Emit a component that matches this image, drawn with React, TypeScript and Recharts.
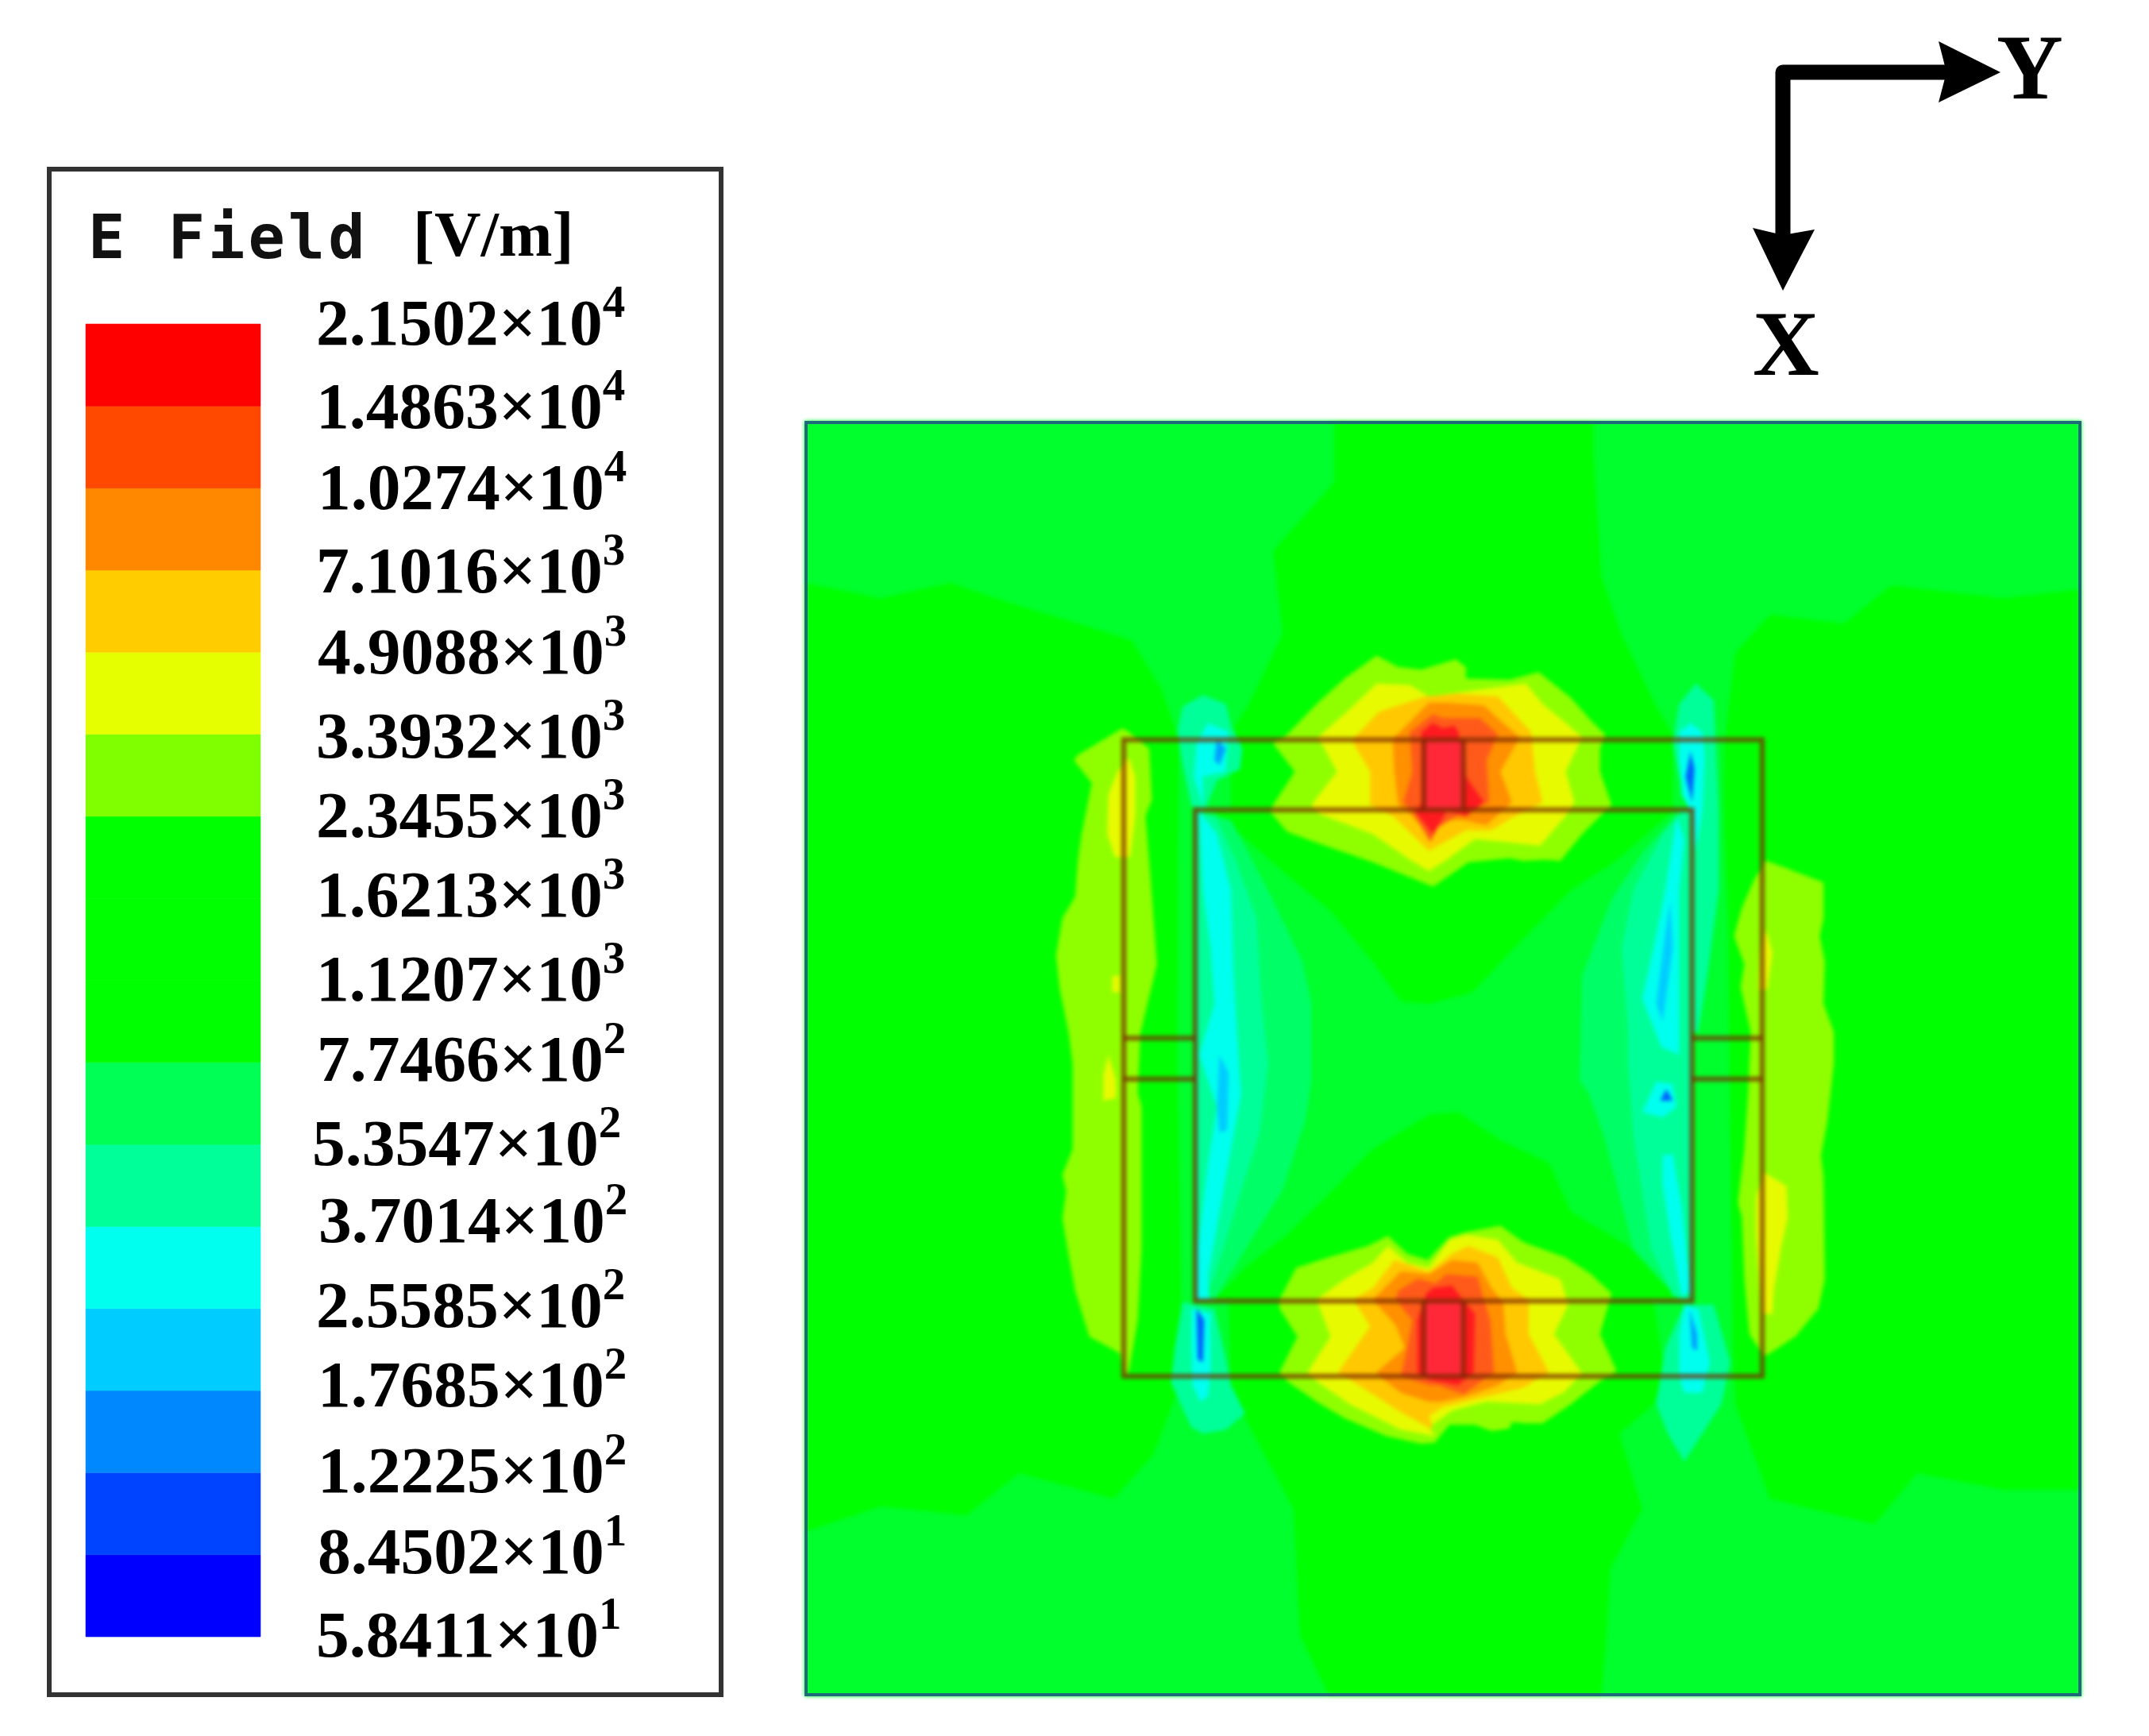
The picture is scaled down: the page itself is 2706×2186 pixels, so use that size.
import { Bar, BarChart, Scatter, ScatterChart, XAxis, YAxis } from "recharts";

type Pt = [number, number];

// legend scale, bottom band first
const bandColors = ["#0000ff", "#0044ff", "#0088ff", "#00ccff", "#00ffee", "#00ff99", "#00ff55", "#00ff00", "#00ff00", "#00ff00", "#7fff00", "#e6ff00", "#ffcc00", "#ff8800", "#ff4800", "#ff0000"];
const scaleMantissas = ["5.8411", "8.4502", "1.2225", "1.7685", "2.5585", "3.7014", "5.3547", "7.7466", "1.1207", "1.6213", "2.3455", "3.3932", "4.9088", "7.1016", "1.0274", "1.4863", "2.1502"];
const scaleExponents = [1, 1, 2, 2, 2, 2, 2, 2, 3, 3, 3, 3, 3, 3, 4, 4, 4];
// the labels were placed by hand in the original, so they sit a little off the ticks
const labelNudgeX = [0, 2, 2, 2, 0, 3, -5, 1, 0, 0, 0, 0, 2, 0, 2, 0, 0];
const labelNudgeY = [-3, -5, -3, -8, -5, -8, -2, -5, -3, -5, -2, 1, -1, 0, -2, 0, -2];

// field contours, in thousandths of the plot side (v runs downwards)
const greenLeft: Pt[] = [[0, 127], [60, 139], [114, 127], [168, 145], [215, 159], [256, 172], [279, 209], [293, 249], [292, 500], [296, 750], [273, 811], [242, 845], [168, 825], [127, 858], [60, 851], [0, 871]];
const greenRight: Pt[] = [[1000, 132], [939, 139], [851, 129], [814, 159], [756, 152], [729, 182], [725, 213], [720, 257], [720, 306], [723, 390], [727, 727], [729, 771], [756, 845], [838, 865], [871, 825], [939, 838], [1000, 838]];
const greenTop: Pt[] = [[415, 0], [618, 0], [618, 28], [624, 122], [640, 168], [667, 224], [680, 246], [680, 306], [334, 306], [334, 244], [347, 224], [374, 168], [374, 162], [367, 102], [415, 48]];
const greenBottom: Pt[] = [[332, 691], [665, 691], [673, 745], [665, 771], [638, 794], [656, 853], [631, 900], [628, 952], [624, 1000], [411, 1000], [388, 952], [383, 853], [343, 778], [334, 756]];
const greenInnerTop: Pt[] = [[321, 306], [356, 337], [385, 362], [412, 384], [445, 424], [467, 455], [489, 457], [523, 448], [556, 413], [600, 368], [634, 346], [680, 306]];
const greenInnerBottom: Pt[] = [[321, 689], [345, 664], [378, 638], [410, 607], [445, 571], [489, 544], [512, 542], [545, 564], [583, 582], [600, 620], [645, 647], [672, 676], [687, 689]];

const paleInnerLeft: Pt[] = [[306, 306], [334, 313], [363, 368], [390, 424], [397, 457], [397, 517], [392, 549], [374, 604], [350, 642], [321, 689], [306, 689]];
const paleInnerRight: Pt[] = [[695, 306], [685, 306], [656, 339], [632, 375], [609, 435], [607, 517], [614, 527], [627, 564], [649, 649], [685, 689], [695, 689]];
const tealInnerLeft: Pt[] = [[306, 306], [322, 310], [338, 346], [354, 390], [358, 457], [363, 504], [356, 560], [338, 616], [321, 671], [312, 689], [306, 689]];
const tealInnerRight: Pt[] = [[695, 306], [688, 306], [672, 324], [649, 368], [640, 413], [645, 479], [645, 504], [649, 560], [663, 649], [680, 686], [695, 689]];
const tealTopLeft: Pt[] = [[296, 224], [312, 215], [330, 222], [334, 239], [343, 257], [341, 273], [323, 282], [314, 304], [303, 302], [296, 268], [292, 244]];
const tealTopRight: Pt[] = [[685, 222], [698, 206], [712, 219], [714, 257], [716, 306], [716, 368], [707, 435], [700, 479], [696, 479], [696, 306], [685, 279], [680, 253]];
const tealBottomLeft: Pt[] = [[296, 691], [321, 696], [330, 736], [334, 756], [345, 778], [330, 791], [312, 794], [303, 789], [296, 774], [287, 754], [290, 727]];
const tealBottomRight: Pt[] = [[689, 693], [712, 693], [725, 738], [718, 771], [703, 794], [689, 816], [676, 794], [667, 771], [674, 727]];

const lobeLeft: Pt[] = [[249, 241], [214, 262], [211, 266], [225, 284], [217, 324], [214, 346], [212, 373], [202, 390], [197, 419], [200, 446], [207, 480], [210, 504], [210, 571], [202, 591], [205, 604], [202, 625], [206, 649], [212, 682], [223, 718], [247, 731], [250, 749], [254, 745], [261, 705], [264, 649], [264, 538], [261, 527], [263, 480], [276, 426], [270, 346], [267, 310], [272, 297], [270, 257], [254, 244]];
const lobeRight: Pt[] = [[753, 345], [767, 350], [798, 362], [798, 390], [795, 404], [799, 424], [798, 457], [806, 479], [806, 504], [801, 549], [796, 576], [798, 593], [799, 673], [794, 696], [776, 718], [756, 731], [751, 733], [740, 716], [736, 673], [734, 624], [731, 613], [736, 571], [739, 527], [741, 479], [733, 444], [736, 426], [728, 404], [734, 382], [744, 359]];
const yellowLeftTop: Pt[] = [[254, 264], [259, 279], [259, 310], [255, 342], [243, 342], [237, 324], [238, 293], [245, 275]];
const yellowLeftMid: Pt[] = [[241, 435], [247, 435], [247, 448], [241, 448]];
const yellowLeftLow: Pt[] = [[238, 497], [244, 517], [244, 531], [234, 533], [234, 513]];
const yellowRightLow: Pt[] = [[751, 589], [769, 600], [770, 625], [765, 647], [759, 682], [758, 700], [749, 700], [745, 638], [745, 609]];
const yellowRightUp: Pt[] = [[753, 399], [758, 417], [754, 446], [747, 446], [748, 417]];

const topLime: Pt[] = [[378, 246], [401, 222], [423, 202], [448, 184], [465, 193], [483, 195], [510, 187], [518, 193], [518, 202], [552, 203], [575, 197], [600, 217], [616, 235], [627, 246], [623, 257], [623, 275], [632, 301], [623, 310], [609, 324], [592, 345], [580, 344], [563, 345], [552, 343], [520, 346], [494, 364], [492, 365], [445, 346], [396, 329], [378, 322], [365, 307], [367, 301], [384, 275], [367, 253]];
const topYellow: Pt[] = [[401, 249], [427, 226], [448, 206], [474, 207], [489, 216], [512, 213], [534, 210], [565, 206], [578, 222], [594, 235], [609, 248], [596, 275], [603, 299], [596, 310], [576, 333], [547, 330], [525, 328], [503, 344], [489, 353], [474, 344], [445, 324], [403, 308], [397, 301], [417, 275], [405, 253]];
const topAmber: Pt[] = [[430, 249], [450, 228], [487, 216], [512, 214], [543, 216], [556, 230], [569, 244], [572, 275], [578, 299], [556, 310], [538, 321], [518, 321], [489, 337], [461, 310], [443, 301], [443, 275], [430, 253]];
const topOrange: Pt[] = [[461, 249], [489, 221], [503, 221], [532, 223], [545, 235], [560, 248], [545, 275], [554, 299], [534, 317], [516, 313], [496, 313], [494, 319], [492, 328], [476, 310], [465, 301], [462, 275], [461, 257]];
const topOrangeRed: Pt[] = [[474, 244], [492, 230], [500, 233], [529, 233], [543, 246], [534, 266], [536, 299], [516, 306], [496, 319], [490, 330], [476, 306], [469, 299], [476, 275]];
const topRed: Pt[] = [[483, 244], [492, 237], [500, 241], [509, 239], [512, 244], [518, 279], [532, 299], [518, 310], [503, 306], [494, 321], [492, 324], [478, 306], [483, 300]];
const topCore: Pt[] = [[485, 250], [516, 250], [516, 305], [485, 305]];

const bottomLime: Pt[] = [[372, 689], [385, 664], [410, 656], [441, 647], [457, 639], [472, 653], [488, 658], [505, 640], [518, 636], [545, 631], [563, 644], [596, 656], [616, 669], [632, 684], [623, 716], [636, 745], [623, 753], [600, 771], [578, 786], [565, 786], [554, 785], [552, 790], [538, 792], [525, 787], [505, 787], [496, 798], [494, 801], [483, 802], [456, 796], [423, 782], [401, 769], [378, 753], [372, 746], [386, 718], [372, 696]];
const bottomYellow: Pt[] = [[401, 689], [423, 673], [445, 660], [457, 647], [472, 660], [489, 664], [505, 642], [518, 638], [543, 642], [558, 660], [592, 673], [598, 693], [587, 716], [609, 747], [594, 762], [576, 771], [534, 769], [507, 776], [489, 789], [494, 796], [467, 791], [427, 771], [401, 753], [394, 746], [412, 718]];
const bottomAmber: Pt[] = [[430, 689], [445, 680], [462, 658], [489, 667], [507, 653], [520, 647], [543, 656], [554, 680], [567, 689], [567, 716], [583, 746], [563, 758], [534, 765], [500, 773], [489, 780], [492, 791], [465, 776], [434, 756], [418, 746], [443, 710]];
const bottomOrange: Pt[] = [[445, 689], [467, 667], [489, 669], [507, 658], [527, 660], [538, 680], [547, 691], [549, 716], [558, 746], [543, 756], [518, 765], [498, 769], [489, 769], [467, 762], [450, 749], [448, 746], [470, 727], [463, 709]];
const bottomOrangeRed: Pt[] = [[465, 682], [480, 673], [494, 676], [503, 669], [527, 671], [532, 689], [537, 705], [540, 746], [516, 763], [496, 756], [489, 756], [467, 749], [472, 727], [476, 705], [463, 689]];
const bottomRed: Pt[] = [[487, 684], [492, 680], [507, 678], [514, 687], [525, 700], [524, 746], [512, 756], [489, 752], [480, 746], [480, 705]];
const bottomCore: Pt[] = [[485, 690], [516, 690], [516, 749], [485, 749]];

const cyanInnerLeft: Pt[] = [[309, 306], [323, 324], [334, 368], [336, 435], [341, 517], [342, 527], [330, 593], [316, 671], [317, 689], [307, 689], [308, 649], [316, 582], [323, 538], [309, 497], [321, 457], [318, 413], [312, 368]];
const cyanInnerRightUp: Pt[] = [[683, 310], [689, 328], [685, 368], [685, 413], [685, 497], [671, 491], [656, 453], [665, 413], [674, 368]];
const cyanInnerRightDot: Pt[] = [[656, 542], [667, 518], [680, 520], [683, 538], [672, 546]];
const cyanInnerRightLow: Pt[] = [[672, 576], [680, 575], [687, 616], [694, 682], [687, 687], [678, 638], [672, 598]];
const cyanTopLeft: Pt[] = [[316, 237], [332, 244], [330, 275], [312, 279], [312, 302], [305, 279], [307, 253]];
const cyanTopRight: Pt[] = [[685, 244], [694, 237], [703, 244], [705, 264], [703, 306], [698, 337], [696, 310], [687, 293], [685, 266]];
const cyanBottomLeft: Pt[] = [[303, 696], [318, 700], [318, 745], [316, 765], [310, 769], [304, 756], [303, 727]];
const cyanBottomRight: Pt[] = [[689, 693], [700, 696], [709, 738], [703, 762], [689, 762], [685, 749], [685, 716]];

const blueInnerLeft: Pt[] = [[325, 497], [332, 511], [331, 556], [325, 558], [323, 538]];
const blueInnerRight: Pt[] = [[678, 377], [680, 413], [672, 471], [667, 457], [674, 402]];
const blueTopLeft: Pt[] = [[323, 250], [330, 257], [325, 270], [321, 266]];
const blueTopRight: Pt[] = [[694, 259], [697, 273], [695, 299], [690, 279]];
const blueBottomLeft: Pt[] = [[307, 696], [313, 705], [312, 738], [308, 736]];
const blueBottomRight: Pt[] = [[693, 696], [699, 716], [699, 729], [695, 727]];
const blueDot: Pt[] = [[675, 524], [680, 533], [670, 533]];

// resonator outline
const outerRing: Pt[] = [[250, 250], [750, 250], [750, 749], [250, 749]];
const innerRing: Pt[] = [[306, 305], [695, 305], [695, 690], [306, 690]];
const gapTopLeft: Pt[] = [[485, 250], [485, 305]];
const gapTopRight: Pt[] = [[516, 250], [516, 305]];
const gapBottomLeft: Pt[] = [[485, 690], [485, 749]];
const gapBottomRight: Pt[] = [[516, 690], [516, 749]];
const gapLeftUpper: Pt[] = [[250, 484], [306, 484]];
const gapLeftLower: Pt[] = [[250, 516], [306, 516]];
const gapRightUpper: Pt[] = [[695, 484], [750, 484]];
const gapRightLower: Pt[] = [[695, 516], [750, 516]];

const GREEN = "#00ff00";
const PALE = "#00ff66";
const TEAL = "#00ff99";
const LIME = "#8fff00";
const YELLOW = "#e8fa00";
const AMBER = "#ffc800";
const ORANGE = "#ff9000";
const ORANGE_RED = "#ff5a1a";
const RED = "#ff1a20";
const CORE = "#ff2838";
const CYAN = "#00ffee";
const BLUE = "#00a0ff";

const contours: [Pt[], string][] = [
  [greenLeft, GREEN], [greenRight, GREEN], [greenTop, GREEN], [greenBottom, GREEN], [greenInnerTop, GREEN], [greenInnerBottom, GREEN],
  [paleInnerLeft, PALE], [paleInnerRight, PALE], [tealInnerLeft, TEAL], [tealInnerRight, TEAL],
  [tealTopLeft, TEAL], [tealTopRight, TEAL], [tealBottomLeft, TEAL], [tealBottomRight, TEAL],
  [lobeLeft, LIME], [lobeRight, LIME], [yellowLeftTop, YELLOW], [yellowLeftMid, YELLOW], [yellowLeftLow, YELLOW], [yellowRightLow, YELLOW], [yellowRightUp, YELLOW],
  [topLime, LIME], [topYellow, YELLOW], [topAmber, AMBER], [topOrange, ORANGE], [topOrangeRed, ORANGE_RED], [topRed, RED], [topCore, CORE],
  [bottomLime, LIME], [bottomYellow, YELLOW], [bottomAmber, AMBER], [bottomOrange, ORANGE], [bottomOrangeRed, ORANGE_RED], [bottomRed, RED], [bottomCore, CORE],
  [cyanInnerLeft, CYAN], [cyanInnerRightUp, CYAN], [cyanInnerRightDot, CYAN], [cyanInnerRightLow, CYAN], [cyanTopLeft, CYAN], [cyanTopRight, CYAN], [cyanBottomLeft, CYAN], [cyanBottomRight, CYAN],
  [blueInnerLeft, "#00ccff"], [blueInnerRight, "#00ccff"], [blueTopLeft, BLUE], [blueTopRight, "#0060ff"], [blueBottomLeft, "#0060ff"], [blueBottomRight, BLUE], [blueDot, "#0060ff"],
];
const closedWires = [outerRing, innerRing];
const openWires = [gapTopLeft, gapTopRight, gapBottomLeft, gapBottomRight, gapLeftUpper, gapLeftLower, gapRightUpper, gapRightLower];

const toRows = (pts: Pt[]) => pts.map(([u, v]) => ({ u, v }));
const pointsAttr = (p: any) => p.points.map((q: any) => `${q.x},${q.y}`).join(" ");
const noDot = () => null;
const WIRE = { stroke: "#7a2800", strokeOpacity: 0.75, strokeWidth: 6 };

const serif = "'Liberation Serif', serif";

function ScaleTick({ x, y, payload }: any) {
  const i = payload.value;
  return (
    <text x={x + 62 + labelNudgeX[i]} y={y + 28 + labelNudgeY[i]} fontFamily={serif} fontWeight="bold" fontSize={83.5} fill="#000">
      <tspan>{`${scaleMantissas[i]}×10`}</tspan>
      <tspan dy={-35} fontSize={57}>{scaleExponents[i]}</tspan>
    </text>
  );
}

function ScaleChart() {
  const row = [Object.fromEntries(bandColors.map((_, i) => [`b${i}`, 1]))];
  return (
    <div style={{ position: "absolute", left: 0, top: 0 }}>
      <BarChart width={909} height={2186} data={row} barCategoryGap={0} margin={{ left: 108, top: 408, right: 0, bottom: 125 }}>
        <XAxis hide />
        <YAxis
          orientation="right"
          width={581}
          type="number"
          domain={[0, 16]}
          ticks={scaleMantissas.map((_, i) => i)}
          interval={0}
          axisLine={false}
          tickLine={false}
          tick={<ScaleTick />}
        />
        {bandColors.map((c, i) => (
          <Bar key={i} dataKey={`b${i}`} stackId="scale" fill={c} stroke={c} strokeWidth={0.6} isAnimationActive={false} />
        ))}
      </BarChart>
    </div>
  );
}

function FieldChart() {
  return (
    <div style={{ position: "absolute", left: 1013, top: 530, width: 1608, height: 1606, background: "#00ff2c", filter: "blur(2.6px)" }}>
      <ScatterChart width={1608} height={1606} margin={{ left: 0, right: 0, top: 0, bottom: 0 }}>
        <XAxis type="number" dataKey="u" domain={[0, 1000]} hide />
        <YAxis type="number" dataKey="v" domain={[0, 1000]} reversed hide />
        {contours.map(([pts, fill], i) => (
          <Scatter
            key={i}
            data={toRows(pts)}
            isAnimationActive={false}
            shape={noDot}
            line={(p: any) => <polygon points={pointsAttr(p)} fill={fill} stroke="none" />}
          />
        ))}
        {closedWires.map((pts, i) => (
          <Scatter
            key={`w${i}`}
            data={toRows(pts)}
            isAnimationActive={false}
            shape={noDot}
            line={(p: any) => <polygon points={pointsAttr(p)} fill="none" {...WIRE} />}
          />
        ))}
        {openWires.map((pts, i) => (
          <Scatter
            key={`g${i}`}
            data={toRows(pts)}
            isAnimationActive={false}
            shape={noDot}
            line={(p: any) => <polyline points={pointsAttr(p)} fill="none" {...WIRE} />}
          />
        ))}
      </ScatterChart>
    </div>
  );
}

function AxisMark() {
  return (
    <svg width={2706} height={2186} style={{ position: "absolute", left: 0, top: 0, pointerEvents: "none" }}>
      <path d="M2452 91 H2245 V296" fill="none" stroke="#000" strokeWidth={19} strokeLinejoin="round" />
      <polygon points="2441,52 2519,91 2441,129 2451,91" fill="#000" />
      <polygon points="2207,287 2245,366 2285,289 2245,296" fill="#000" />
      <text x={2514} y={124} fontFamily={serif} fontWeight="bold" fontSize={116}>Y</text>
      <text x={2207} y={472} fontFamily={serif} fontWeight="bold" fontSize={116}>X</text>
    </svg>
  );
}

export default function App() {
  return (
    <div style={{ position: "absolute", left: 0, top: 0, width: 2706, height: 2186, background: "#fff", overflow: "hidden" }}>
      <div style={{ position: "absolute", left: 59, top: 210, width: 852, height: 1927, border: "6px solid #333", boxSizing: "border-box" }} />
      <div style={{ position: "absolute", left: 111, top: 249, fontFamily: "'DejaVu Sans Mono', monospace", fontWeight: "bold", fontSize: 77, letterSpacing: 4, whiteSpace: "pre", color: "#111", lineHeight: "100px" }}>E Field</div>
      <div style={{ position: "absolute", left: 520, top: 245, fontFamily: serif, fontWeight: "bold", fontSize: 81, whiteSpace: "pre", color: "#000", lineHeight: "100px" }}>[V/m]</div>
      <ScaleChart />
      <FieldChart />
      <div style={{ position: "absolute", left: 1013, top: 530, width: 1608, height: 1606, border: "4px solid #1f6a78", boxSizing: "border-box" }} />
      <AxisMark />
    </div>
  );
}
